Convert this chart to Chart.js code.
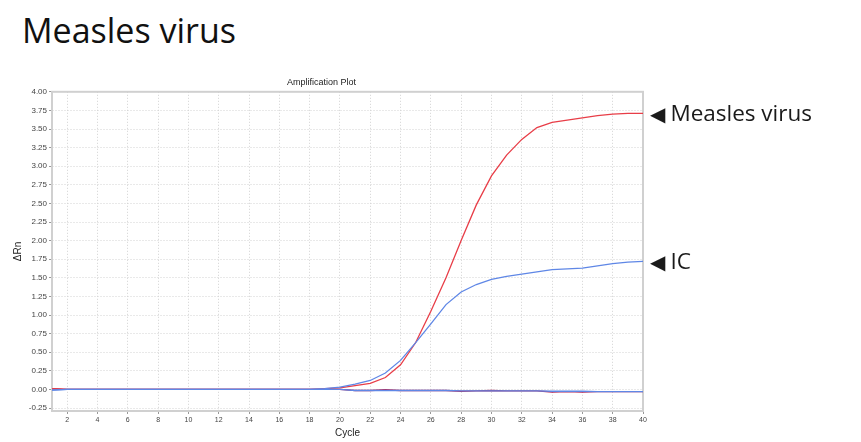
<!DOCTYPE html>
<html>
<head>
<meta charset="utf-8">
<script src="https://cdn.jsdelivr.net/npm/chart.js@4.4.1/dist/chart.umd.min.js"></script>
<style>
    body { margin: 0; background: #fff; width: 861px; height: 442px; position: relative; overflow: hidden; }
    #wrap { position: absolute; left: 0; top: 0; width: 861px; height: 442px; }
    .heading { position: absolute; left: 22px; top: 7px; font-family: 'Open Sans', sans-serif; font-size: 34px; color: #111; margin: 0; font-weight: 400; }
    .tag { position: absolute; left: 650px; font-family: 'Open Sans', sans-serif; font-size: 22.5px; color: #1a1a1a; white-space: nowrap; }
    .tag .arrow { font-family: 'DejaVu Sans', sans-serif; font-size: 20px; margin-right: 5px; }
</style>
</head>
<body>
<h1 class="heading">Measles virus</h1>
<div id="wrap"><canvas id="myChart" width="861" height="442"></canvas></div>
<div class="tag" style="top: 97px;"><span class="arrow">◀</span>Measles virus</div>
<div class="tag" style="top: 245px;"><span class="arrow">◀</span>IC</div>
<script>
const cycles = [1, 2, 3, 4, 5, 6, 7, 8, 9, 10, 11, 12, 13, 14, 15, 16, 17, 18, 19, 20,
    21, 22, 23, 24, 25, 26, 27, 28, 29, 30, 31, 32, 33, 34, 35, 36, 37, 38, 39, 40];

const measles = [0.01, 0, 0, 0, 0, 0, 0, 0, 0, 0, 0, 0, 0, 0, 0, 0, 0, 0, 0.01, 0.02,
    0.05, 0.08, 0.16, 0.33, 0.63, 1.05, 1.5, 2.0, 2.48, 2.87, 3.15, 3.36, 3.52, 3.59, 3.62, 3.65, 3.68, 3.7, 3.71, 3.71];

const ic = [-0.01, 0, 0, 0, 0, 0, 0, 0, 0, 0, 0, 0, 0, 0, 0, 0, 0, 0, 0.01, 0.03,
    0.07, 0.12, 0.22, 0.39, 0.63, 0.88, 1.14, 1.31, 1.41, 1.48, 1.52, 1.55, 1.58, 1.61, 1.62, 1.63, 1.66, 1.69, 1.71, 1.72];

const negMeasles = [0.01, 0, 0, 0, 0, 0, 0, 0, 0, 0, 0, 0, 0, 0, 0, 0, 0, 0, 0, 0,
    -0.015, -0.015, -0.005, -0.015, -0.015, -0.015, -0.015, -0.025, -0.02, -0.015, -0.02, -0.02, -0.02, -0.035, -0.03, -0.035, -0.03, -0.03, -0.03, -0.03];

const negIc = [-0.01, 0, 0, 0, 0, 0, 0, 0, 0, 0, 0, 0, 0, 0, 0, 0, 0, 0, 0, 0,
    -0.015, -0.015, -0.015, -0.015, -0.015, -0.015, -0.015, -0.02, -0.02, -0.02, -0.02, -0.02, -0.02, -0.025, -0.025, -0.025, -0.03, -0.03, -0.03, -0.03];

const toPoints = (vals) => vals.map((v, i) => ({ x: cycles[i], y: v }));

// light frame round the plot area
const frame = {
    id: 'frame',
    beforeDatasetsDraw(chart) {
        const { ctx, chartArea: a } = chart;
        ctx.save();
        ctx.strokeStyle = '#d0d0d0';
        ctx.lineWidth = 2;
        ctx.strokeRect(a.left, a.top, a.right - a.left, a.bottom - a.top);
        ctx.restore();
    }
};

const ctx = document.getElementById('myChart').getContext('2d');

const line = (vals, color, width) => ({
    data: toPoints(vals),
    borderColor: color,
    borderWidth: width,
    pointRadius: 0,
    tension: 0,
    fill: false
});

// first dataset is painted last (on top)
new Chart(ctx, {
    type: 'line',
    data: {
        datasets: [
            line(ic, 'rgb(95, 135, 230)', 1.3),
            line(negIc, 'rgb(95, 135, 230)', 1.4),
            line(measles, 'rgb(232, 62, 72)', 1.3),
            line(negMeasles, 'rgb(175, 35, 85)', 1.4)
        ]
    },
    options: {
        responsive: false,
        animation: false,
        layout: {
            padding: { left: 0, top: 77, right: 218, bottom: 3 }
        },
        scales: {
            x: {
                type: 'linear',
                min: 1,
                max: 40,
                ticks: {
                    stepSize: 2,
                    includeBounds: false,
                    padding: 2,
                    color: '#444',
                    font: { family: 'Liberation Sans', size: 7 },
                    maxRotation: 0
                },
                grid: {
                    color: '#d2d2d2',
                    tickLength: 3,
                    tickColor: '#999'
                },
                border: { color: '#9a9a9a', width: 1.5, dash: [1, 2] },
                title: {
                    display: true,
                    text: 'Cycle',
                    color: '#222',
                    padding: { top: 0, bottom: 0 },
                    font: { family: 'Liberation Sans', size: 10 }
                },
                afterFit: (scale) => { scale.height = 28; }
            },
            y: {
                min: -0.29,
                max: 4.0,
                ticks: {
                    stepSize: 0.25,
                    includeBounds: false,
                    padding: 2,
                    color: '#444',
                    font: { family: 'Liberation Sans', size: 8 },
                    callback: (v) => v.toFixed(2)
                },
                grid: {
                    color: '#d2d2d2',
                    tickLength: 3,
                    tickColor: '#999'
                },
                border: { color: '#9a9a9a', width: 1.5, dash: [1, 2] },
                title: {
                    display: true,
                    text: 'ΔRn',
                    color: '#222',
                    padding: { top: 12, bottom: 0 },
                    font: { family: 'Liberation Sans', size: 10 }
                },
                afterFit: (scale) => { scale.width = 52; }
            }
        },
        plugins: {
            legend: { display: false },
            tooltip: { enabled: false },
            title: {
                display: true,
                text: 'Amplification Plot',
                color: '#222',
                padding: { top: 0, bottom: 4 },
                font: { family: 'Liberation Sans', size: 9, weight: 'normal' }
            }
        }
    },
    plugins: [frame]
});
</script>
</body>
</html>
